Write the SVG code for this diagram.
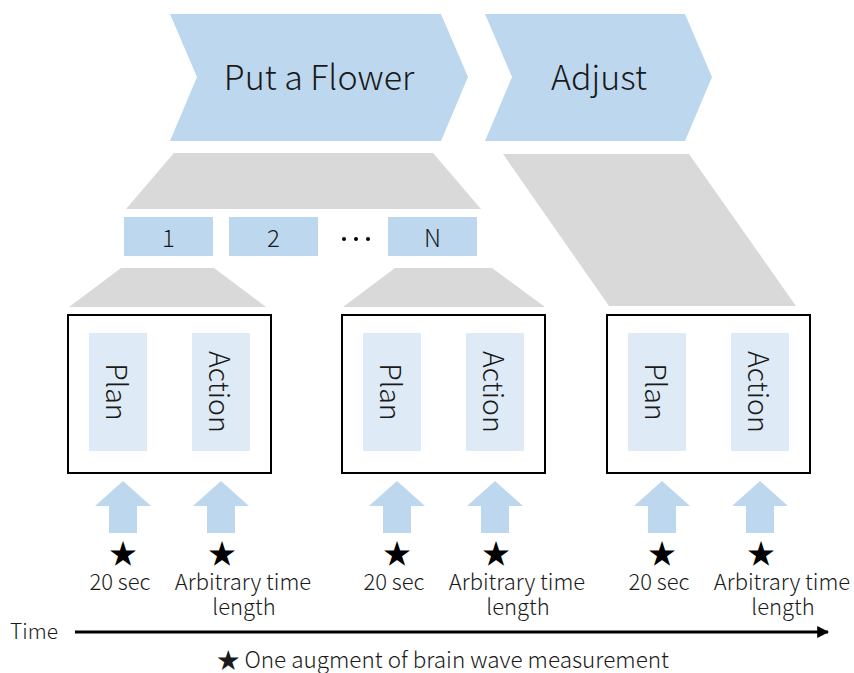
<svg xmlns="http://www.w3.org/2000/svg" width="854" height="673" viewBox="0 0 854 673">
  <style>
    text { font-family: "Noto Sans CJK JP", "Noto Sans", "Liberation Sans", sans-serif; font-weight: 300; fill: #1a1a1a; }
    .phase { fill: #BDD7EE; }
    .fan { fill: #D9D9D9; }
    .step { fill: #BDD7EE; }
    .bar { fill: #DEEBF7; }
    .frame { fill: #FFFFFF; stroke: #000000; stroke-width: 2; }
    .up { fill: #BDD7EE; }
    .big { font-size: 34px; text-anchor: middle; dominant-baseline: central; }
    .num { font-size: 24px; text-anchor: middle; dominant-baseline: central; }
    .vert { font-size: 28.5px; text-anchor: middle; dominant-baseline: central; }
    .lbl { font-size: 22px; text-anchor: middle; }
    .star { font-size: 28px; text-anchor: middle; dominant-baseline: central; fill: #000000; }
  </style>
  <defs>
    <marker id="head" viewBox="0 0 10 10" refX="9" refY="5" markerWidth="4" markerHeight="4" orient="auto">
      <path d="M0,0 L10,5 L0,10 z" fill="#000000"/>
    </marker>
    <!-- one trial: frame with plan and action bars, arrows, stars and labels -->
    <g id="trial">
      <rect class="frame" x="68" y="315" width="203" height="158"/>
      <rect class="bar" x="89" y="333" width="58" height="118"/>
      <rect class="bar" x="192" y="333" width="58" height="118"/>
      <text class="vert" transform="translate(118,392) rotate(90)">Plan</text>
      <text class="vert" transform="translate(221,392) rotate(90)">Action</text>
      <path class="up" d="M95,506 L123,481 L151,506 L137,506 L137,533 L109,533 L109,506 z"/>
      <path class="up" d="M193,506 L221,481 L249,506 L235,506 L235,533 L207,533 L207,506 z"/>
      <text class="star" x="123" y="552">★</text>
      <text class="star" x="222" y="552">★</text>
      <text class="lbl" x="120" y="590">20 sec</text>
      <text class="lbl" x="243" y="590">Arbitrary time</text>
      <text class="lbl" x="244" y="615">length</text>
    </g>
  </defs>

  <!-- phase chevrons -->
  <g id="phase-put">
    <path class="phase" d="M170,14 L441,14 L468,77 L441,141 L170,141 L197,77 z"/>
    <text class="big" x="319" y="75">Put a Flower</text>
  </g>
  <g id="phase-adjust">
    <path class="phase" d="M485,14 L685,14 L712,77 L685,141 L485,141 L512,77 z"/>
    <text class="big" x="599" y="75">Adjust</text>
  </g>

  <!-- expansion shapes -->
  <g id="connectors">
    <path class="fan" d="M174,153 L433,153 L481,209 L126,209 z"/>
    <path class="fan" d="M121,268 L214,268 L266,307 L69,307 z"/>
    <path class="fan" d="M395,268 L492,268 L545,307 L343,307 z"/>
    <path class="fan" d="M503,154 L689,154 L796,306 L609,306 z"/>
    <line x1="75" y1="632" x2="828" y2="632" stroke="#000000" stroke-width="3" marker-end="url(#head)"/>
  </g>

  <!-- repetitions 1..N -->
  <g id="step-1">
    <rect class="step" x="124" y="217" width="89" height="39"/>
    <text class="num" x="168.5" y="236">1</text>
  </g>
  <g id="step-2">
    <rect class="step" x="229" y="217" width="89" height="39"/>
    <text class="num" x="273.5" y="236">2</text>
  </g>
  <g id="step-dots">
    <circle cx="344" cy="239" r="2" fill="#000000"/>
    <circle cx="356" cy="239" r="2" fill="#000000"/>
    <circle cx="368" cy="239" r="2" fill="#000000"/>
  </g>
  <g id="step-n">
    <rect class="step" x="388" y="217" width="89" height="39"/>
    <text class="num" x="432.5" y="236">N</text>
  </g>

  <!-- trials -->
  <g id="trial-1"><use href="#trial"/></g>
  <g id="trial-n"><use href="#trial" transform="translate(274,0)"/></g>
  <g id="trial-adjust"><use href="#trial" transform="translate(539,0)"/></g>

  <!-- time axis and legend -->
  <g id="time-axis">
    <text x="10" y="639" style="font-size:21px">Time</text>
  </g>
  <g id="legend">
    <text x="443" y="668" style="font-size:22.5px; text-anchor:middle">★ One augment of brain wave measurement</text>
  </g>
</svg>
